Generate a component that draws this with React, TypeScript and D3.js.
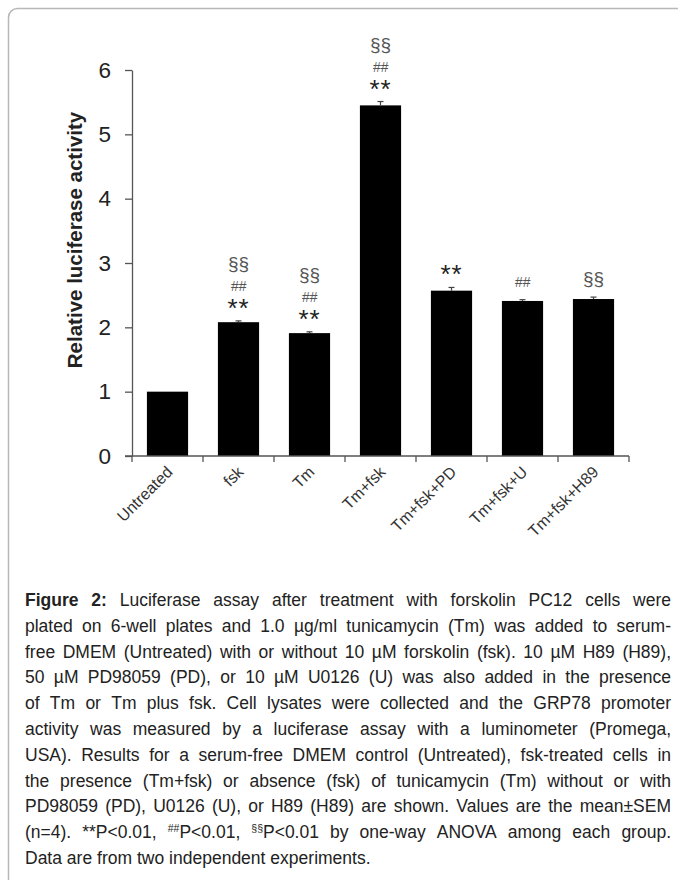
import React, { useEffect, useRef } from "react";
import * as d3 from "d3";

const categories = ["Untreated", "fsk", "Tm", "Tm+fsk", "Tm+fsk+PD", "Tm+fsk+U", "Tm+fsk+H89"];
const means = [1.0, 2.08, 1.91, 5.45, 2.57, 2.41, 2.44];
const sems = [0, 0.02, 0.02, 0.06, 0.05, 0.02, 0.03];
// significance marks, bottom to top
const marks = [[], ["**", "##", "§§"], ["**", "##", "§§"], ["**", "##", "§§"], ["**"], ["##"], ["§§"]];
const yTicks = [0, 1, 2, 3, 4, 5, 6];
const yTitle = "Relative luciferase activity";

const captionLines = [
  "Figure 2: Luciferase assay after treatment with forskolin PC12 cells were",
  "plated  on 6-well plates and 1.0 µg/ml tunicamycin (Tm) was added to serum-",
  "free DMEM (Untreated) with or without 10 µM forskolin (fsk). 10 µM H89 (H89),",
  "50 µM PD98059 (PD), or 10 µM U0126 (U) was also added in the presence",
  "of Tm or Tm plus fsk. Cell lysates were collected and the GRP78 promoter",
  "activity was measured by a luciferase assay with a luminometer (Promega,",
  "USA). Results for a serum-free DMEM control (Untreated), fsk-treated cells in",
  "the presence (Tm+fsk) or absence (fsk) of tunicamycin (Tm) without or with",
  "PD98059 (PD), U0126 (U), or H89 (H89) are shown. Values are the mean±SEM",
  "(n=4). **P<0.01, ##P<0.01, §§P<0.01 by one-way ANOVA among each group.",
  "Data are from two independent experiments.",
];

const W = 678;
const H = 880;
const font = "Liberation Sans, Arial, sans-serif";

const App: React.FC = () => {
  const svgRef = useRef<SVGSVGElement>(null);

  useEffect(() => {
    const svg = d3.select(svgRef.current);
    svg.selectAll("*").remove();

    // frame (runs off the right and bottom edges)
    svg
      .append("rect")
      .attr("x", 8.5)
      .attr("y", 8.5)
      .attr("width", 720)
      .attr("height", 920)
      .attr("rx", 9)
      .attr("fill", "white")
      .attr("stroke", "#b8b8b8")
      .attr("stroke-width", 1.5);

    const x = d3.scaleBand().domain(categories).range([132, 629]).paddingInner(0.42).paddingOuter(0.21);
    const y = d3.scaleLinear().domain([0, 6]).range([456, 70]);
    const axisColor = "#555";

    const g = svg.append("g");

    // bars
    g.selectAll(".bar")
      .data(categories)
      .enter()
      .append("rect")
      .attr("x", (d) => x(d)!)
      .attr("width", x.bandwidth())
      .attr("y", (d, i) => y(means[i]))
      .attr("height", (d, i) => y(0) - y(means[i]))
      .attr("fill", "#000");

    // error bars
    categories.forEach((c, i) => {
      if (!sems[i]) return;
      const cx = x(c)! + x.bandwidth() / 2;
      g.append("line")
        .attr("x1", cx).attr("x2", cx)
        .attr("y1", y(means[i])).attr("y2", y(means[i] + sems[i]))
        .attr("stroke", "#444").attr("stroke-width", 1.2);
      g.append("line")
        .attr("x1", cx - 3).attr("x2", cx + 3)
        .attr("y1", y(means[i] + sems[i])).attr("y2", y(means[i] + sems[i]))
        .attr("stroke", "#444").attr("stroke-width", 1.2);
    });

    // y axis
    const yAxis = g
      .append("g")
      .attr("transform", "translate(132,0)")
      .call(
        d3.axisLeft(y).tickValues(yTicks).tickFormat(d3.format("d")).tickSize(7).tickPadding(14).tickSizeOuter(0)
      );
    yAxis.select(".domain").attr("stroke", axisColor).attr("stroke-width", 1.3);
    yAxis.selectAll(".tick line").attr("stroke", axisColor).attr("stroke-width", 1.3);
    yAxis
      .selectAll(".tick text")
      .attr("font-family", font)
      .attr("font-size", 22.5)
      .attr("fill", "#222");

    // x axis
    const xAxisG = g.append("g").attr("transform", `translate(0,${y(0)})`);
    xAxisG
      .append("line")
      .attr("x1", 125).attr("x2", 629)
      .attr("stroke", axisColor).attr("stroke-width", 1.3);
    const boundaries = d3.range(categories.length + 1).map((i) => 132 + i * x.step());
    xAxisG
      .selectAll(".xt")
      .data(boundaries)
      .enter()
      .append("line")
      .attr("x1", (d) => d).attr("x2", (d) => d)
      .attr("y1", 0).attr("y2", 6)
      .attr("stroke", axisColor).attr("stroke-width", 1.3);

    xAxisG
      .selectAll(".xl")
      .data(categories)
      .enter()
      .append("text")
      .attr("transform", (d) => `translate(${x(d)! + x.bandwidth() / 2 + 6},${17}) rotate(-45)`)
      .attr("text-anchor", "end")
      .attr("font-family", font)
      .attr("font-size", 16)
      .attr("fill", "#333")
      .text((d) => d);

    // y title
    svg
      .append("text")
      .attr("transform", `translate(82,240) rotate(-90)`)
      .attr("text-anchor", "middle")
      .attr("font-family", font)
      .attr("font-weight", "bold")
      .attr("font-size", 20.5)
      .attr("fill", "#222")
      .text(yTitle);

    // significance marks
    categories.forEach((c, i) => {
      const cx = x(c)! + x.bandwidth() / 2;
      let cy = y(means[i] + sems[i]) - 18;
      marks[i].forEach((m, k) => {
        if (k > 0) cy -= m === "§§" ? 22 : 17;
        const t = g
          .append("text")
          .attr("x", cx)
          .attr("text-anchor", "middle")
          .attr("font-family", font)
          .text(m);
        if (m === "**") {
          t.attr("y", cy + 14).attr("font-size", 26).attr("fill", "#222").attr("letter-spacing", 1);
        } else if (m === "##") {
          t.attr("y", cy + 5).attr("font-size", 14).attr("font-style", "italic").attr("fill", "#555");
        } else {
          t.attr("y", cy + 6).attr("font-size", 19).attr("fill", "#555")
            .attr("font-family", "Liberation Sans Narrow, Arial Narrow, sans-serif");
        }
      });
    });

    // caption, justified line by line
    const capLeft = 25;
    const capRight = 671;
    const capTop = 606;
    const lineH = 25.8;
    const fontSize = 17.5;
    const cap = svg
      .append("g")
      .attr("font-family", font)
      .attr("font-size", fontSize)
      .attr("fill", "#222");

    captionLines.forEach((line, li) => {
      const words = line.split(/\s+/);
      const by = capTop + li * lineH;
      const lineG = cap.append("g");
      const nodes = words.map((w, wi) => {
        const t = lineG.append("text").attr("y", by);
        if (li === 0 && wi < 2) t.attr("font-weight", "bold");
        const sup = w.match(/^(##|§§)(.*)$/);
        if (sup) {
          t.append("tspan").attr("font-size", fontSize * 0.6).attr("dy", -6).text(sup[1]);
          t.append("tspan").attr("dy", 6).text(sup[2]);
        } else {
          t.text(w);
        }
        return t;
      });
      const widths = nodes.map((n) => (n.node() as SVGTextElement).getComputedTextLength());
      const total = d3.sum(widths);
      const last = li === captionLines.length - 1;
      const avail = capRight - capLeft;
      const minGap = fontSize * 0.24;
      let gap = last ? fontSize * 0.28 : (avail - total) / (words.length - 1);
      let sx = 1;
      if (!last && gap < minGap) {
        gap = minGap;
        sx = avail / (total + minGap * (words.length - 1));
      }
      let cx = 0;
      nodes.forEach((n, k) => {
        n.attr("x", cx);
        cx += widths[k] + gap;
      });
      lineG.attr("transform", `translate(${capLeft},0) scale(${sx},1)`);
    });
  }, []);

  return (
    <svg
      ref={svgRef}
      width={W}
      height={H}
      style={{ position: "absolute", left: 0, top: 0, background: "white" }}
    />
  );
};

export default App;
